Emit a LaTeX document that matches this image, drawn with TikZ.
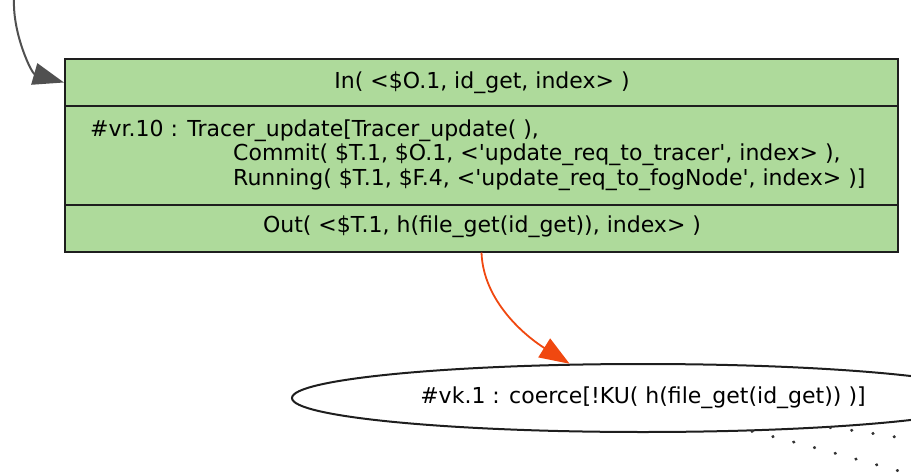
\documentclass[tikz,border=0pt]{standalone}
\usepackage{fontspec}
\setmainfont{DejaVu Sans}
\usetikzlibrary{arrows.meta,shapes.geometric}
\definecolor{boxgreen}{RGB}{174,218,155}
\definecolor{edgeorange}{RGB}{240,72,16}
\definecolor{edgegray}{RGB}{80,80,80}
\definecolor{outline}{RGB}{30,30,30}
\newcommand{\sq}{\textquotesingle}
\begin{document}
\begin{tikzpicture}[x=1pt,y=-1pt,
  lbl/.style={inner sep=0pt, font=\fontsize{22}{26}\selectfont, text height=16pt, text depth=5pt},
  recbox/.style={draw=outline, line width=2pt, fill=boxgreen, inner sep=0pt, minimum width=833pt, minimum height=193pt},
  divider/.style={draw=outline, line width=2pt},
  oval/.style={ellipse, draw=outline, line width=2pt, inner sep=0pt, minimum width=702pt, minimum height=68pt},
  grayedge/.style={draw=edgegray, line width=2pt, -{Triangle[length=31pt,width=22pt]}},
  orangeedge/.style={draw=edgeorange, line width=1.8pt, -{Triangle[length=30pt,width=22pt]}},
  dotline/.style={draw=black!80, line width=3pt, line cap=round, dash pattern=on 0.5pt off 21pt}
]
\useasboundingbox (0,0) rectangle (911,474);
\clip (0,0) rectangle (911,474);

% record box
\node[recbox] (box) at (481.5,155) {};
\coordinate (d1w) at (65,106);
\coordinate (d1e) at (898,106);
\coordinate (d2w) at (65,205);
\coordinate (d2e) at (898,205);
\draw[divider] (d1w) -- (d1e);
\draw[divider] (d2w) -- (d2e);

\node[lbl, anchor=base] (r1) at (482,88) {In( <\$O.1, id\_get, index> )};
\node[lbl, anchor=base west] (r2a) at (90,136) {\#vr.10 : Tracer\_update[Tracer\_update( ),};
\node[lbl, anchor=base west] (r2b) at (233,160.5) {Commit( \$T.1, \$O.1, <\sq update\_req\_to\_tracer\sq, index> ),};
\node[lbl, anchor=base west] (r2c) at (233,185) {Running( \$T.1, \$F.4, <\sq update\_req\_to\_fogNode\sq, index> )]};
\node[lbl, anchor=base] (r3) at (482,232) {Out( <\$T.1, h(file\_get(id\_get)), index> )};

% ellipse
\node[oval] (vk) at (643,398) {};
\node[lbl] (vklbl) at (643,398) {\#vk.1 : coerce[!KU( h(file\_get(id\_get)) )]};

% connectors
\coordinate (src) at (14,0);
\draw[grayedge] (src) to[out=-92,in=164,looseness=0.9] (box.west |- r1.center);
\draw[orangeedge] (box.south) to[out=-88,in=148,looseness=0.9] (vk.155);

\coordinate (off1) at (925,478);
\coordinate (off2) at (930,441);
\draw[dotline] (vk.-17) to[out=-14,in=165] (off1);
\draw[dotline] (vk.-9) to[out=-6,in=175] (off2);
\end{tikzpicture}
\end{document}
